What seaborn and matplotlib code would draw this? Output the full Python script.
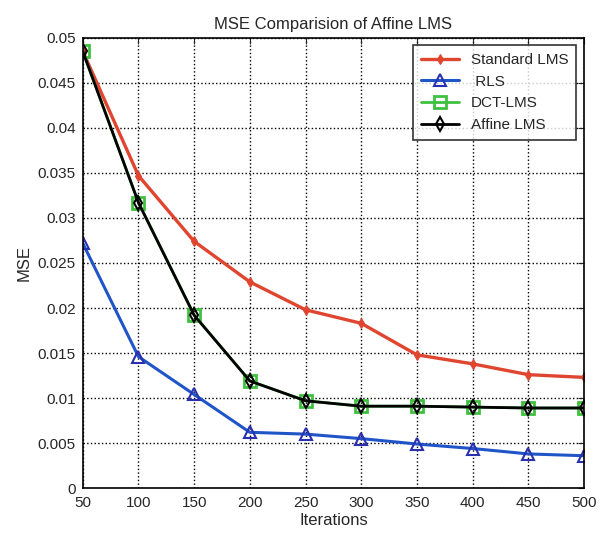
import seaborn as sns
import matplotlib.pyplot as plt
import pandas as pd

# iterations and MSE values
iterations = [50, 100, 150, 200, 250, 300, 350, 400, 450, 500]
standard_lms = [0.0485, 0.0347, 0.0274, 0.0229, 0.0198, 0.0183, 0.0148, 0.0138, 0.0126, 0.0123]
rls = [0.0272, 0.0146, 0.0104, 0.0062, 0.0060, 0.0055, 0.0049, 0.0044, 0.0038, 0.0036]
dct_lms = [0.0485, 0.0317, 0.0192, 0.0119, 0.0097, 0.0091, 0.0091, 0.0090, 0.0089, 0.0089]
affine_lms = [0.0485, 0.0317, 0.0192, 0.0119, 0.0097, 0.0091, 0.0091, 0.0090, 0.0089, 0.0089]

series = {
    "Standard LMS": standard_lms,
    " RLS": rls,
    "DCT-LMS": dct_lms,
    "Affine LMS": affine_lms,
}
df = pd.DataFrame({"Iterations": iterations, **series})

sns.set_style("white")
plt.rcParams['font.family'] = ['Liberation Sans', 'DejaVu Sans']

fig = plt.figure(figsize=(6.04, 5.40), dpi=100)
ax = fig.add_axes([0.137, 0.096, 0.830, 0.834])

styles = {
    "Standard LMS": dict(color="#e04530", marker="d", markersize=5, mfc="#e04530", mec="#e04530", linewidth=2.4),
    " RLS": dict(color="#2055c8", marker="^", markersize=8, mfc="none", mec="#2a30b0", mew=1.5, linewidth=2.2),
    "DCT-LMS": dict(color="#40c040", marker="s", markersize=8, mfc="none", mec="#40c040", mew=2.0, linewidth=2.0),
    "Affine LMS": dict(color="black", marker="d", markersize=7, mfc="none", mec="black", mew=1.5, linewidth=2.0),
}
for name, st in styles.items():
    sns.lineplot(data=df, x="Iterations", y=name, ax=ax, label=name, **st)

ax.set_xlim(50, 500)
ax.set_ylim(0, 0.05)
ax.set_xticks(iterations)
ax.set_yticks([0, 0.005, 0.01, 0.015, 0.02, 0.025, 0.03, 0.035, 0.04, 0.045, 0.05])
ax.set_yticklabels(["0", "0.005", "0.01", "0.015", "0.02", "0.025", "0.03", "0.035", "0.04", "0.045", "0.05"])
ax.grid(True, linestyle=":", color="black", linewidth=1.0)
ax.tick_params(direction="in", labelsize=11, length=4, top=True, right=True)
ax.tick_params(axis="x", pad=6)
ax.tick_params(axis="y", pad=5)
for sp in ax.spines.values():
    sp.set_color("black")
    sp.set_linewidth(1.2)

ax.set_title("MSE Comparision of Affine LMS", fontsize=12)
ax.set_xlabel("Iterations", fontsize=12, labelpad=2)
ax.set_ylabel("MSE", fontsize=12)

leg = ax.legend(loc="upper right", fontsize=11, frameon=True, fancybox=False,
                edgecolor="black", handlelength=2.5, borderpad=0.5, labelspacing=0.5)
leg.get_frame().set_linewidth(1.2)

plt.savefig("out.png", dpi=100)
